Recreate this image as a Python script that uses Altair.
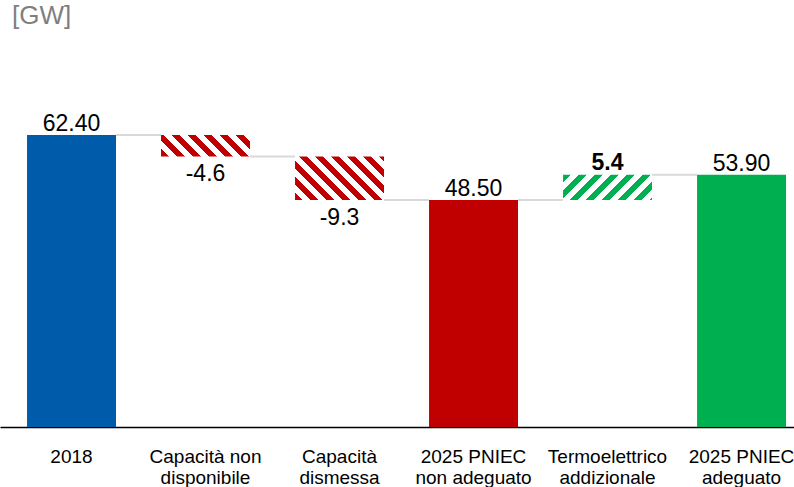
import altair as alt
import pandas as pd

# --- data -------------------------------------------------------------------
categories = [
    "2018",
    "Capacità non\ndisponibile",
    "Capacità\ndismessa",
    "2025 PNIEC\nnon adeguato",
    "Termoelettrico\naddizionale",
    "2025 PNIEC\nadeguato",
]
values = [62.40, -4.6, -9.3, 48.50, 5.4, 53.90]
kinds = ["total", "delta", "delta", "total", "delta", "total"]
colors = ["#005BAA", "#C00000", "#C00000", "#C00000", "#00B050", "#00B050"]

# --- layout constants --------------------------------------------------------
W = 794
TOP = 40
H = 387
Y_MAX = 82.7
PX_PER_GW = H / Y_MAX
PAD_INNER = 0.336
PAD_OUTER = 0.1306
ALIGN = 0.772
STEP = W / (len(categories) - PAD_INNER + 2 * PAD_OUTER)
BAR_W = STEP * (1 - PAD_INNER)
FONT = "Liberation Sans"

# waterfall start / end levels and value labels
rows = []
level = 0.0
for cat, val, kind, col in zip(categories, values, kinds, colors):
    if kind == "total":
        start, end = 0.0, val
        label = f"{val:.2f}"
    else:
        start, end = level, level + val
        label = f"{val:.1f}"
    level = end
    rows.append({"cat": cat, "value": val, "kind": kind, "color": col,
                 "start": start, "end": end, "label": label})
df = pd.DataFrame(rows)

connectors = pd.DataFrame([
    {"cat": categories[i], "next": categories[i + 1], "level": rows[i]["end"]}
    for i in range(len(categories) - 1)
])


def stripes(color, w, h, period=16.0, slope="down"):
    """Linear gradient with hard stops that draws 45-degree hatching
    inside a w x h box (gradient coordinates are bounding-box relative)."""
    span = w + h
    k = span / (w * w + h * h)
    if slope == "down":      # "\" stripes
        x1, y1, x2, y2 = 0, 1, k * w, 1 - k * h
    else:                    # "/" stripes
        x1, y1, x2, y2 = 0, 0, k * w, k * h
    p = period / span
    stops = []
    t = 0.0
    while t < 1:
        a, b, c = t, min(t + p / 2, 1), min(t + p, 1)
        stops += [
            {"offset": a, "color": color}, {"offset": b, "color": color},
            {"offset": b, "color": "white"}, {"offset": c, "color": "white"},
        ]
        t += p
    return alt.LinearGradient(gradient="linear", stops=stops,
                              x1=x1, y1=y1, x2=x2, y2=y2)


# --- encodings ---------------------------------------------------------------
x_enc = alt.X(
    "cat:N",
    sort=categories,
    scale=alt.Scale(paddingInner=PAD_INNER, paddingOuter=PAD_OUTER, align=ALIGN),
    axis=alt.Axis(
        title=None, labelAngle=0, labelAlign="center", ticks=False, grid=False,
        labelExpr="split(datum.label, '\\n')",
        domainColor="#000000", domainWidth=1.5,
        labelFont=FONT, labelFontSize=19, labelColor="#000000",
        labelPadding=20, labelLineHeight=21, labelBaseline="top",
    ),
)
y_scale = alt.Scale(domain=[0, Y_MAX], nice=False, zero=True)

base = alt.Chart(df)

connector_rules = alt.Chart(connectors).mark_rule(
    color="#D9D9D9", strokeWidth=2
).encode(
    x=alt.X("cat:N", sort=categories, bandPosition=1),
    x2=alt.X2("next:N", bandPosition=0),
    y=alt.Y("level:Q", scale=y_scale, axis=None),
)

total_bars = base.transform_filter(alt.datum.kind == "total").mark_bar().encode(
    x=x_enc,
    y=alt.Y("start:Q", scale=y_scale, axis=None),
    y2="end:Q",
    fill=alt.Fill("color:N", scale=None),
)

hatched = []
for r in rows:
    if r["kind"] != "delta":
        continue
    h_px = abs(r["value"]) * PX_PER_GW
    grad = stripes(r["color"], BAR_W, h_px,
                   slope="down" if r["value"] < 0 else "up")
    hatched.append(
        base.transform_filter(alt.datum.cat == r["cat"]).mark_bar(fill=grad).encode(
            x=x_enc,
            y=alt.Y("start:Q", scale=y_scale, axis=None),
            y2="end:Q",
        )
    )

label_common = dict(font=FONT, fontSize=23, color="#000000")

total_labels = base.transform_filter(alt.datum.kind == "total").mark_text(
    baseline="alphabetic", dy=-4, **label_common
).encode(x=x_enc, y=alt.Y("end:Q", scale=y_scale, axis=None), text="label:N")

neg_labels = base.transform_filter(
    (alt.datum.kind == "delta") & (alt.datum.value < 0)
).mark_text(baseline="alphabetic", dy=24.5, **label_common).encode(
    x=x_enc, y=alt.Y("end:Q", scale=y_scale, axis=None), text="label:N")

pos_labels = base.transform_filter(
    (alt.datum.kind == "delta") & (alt.datum.value > 0)
).mark_text(baseline="alphabetic", dy=-5, fontWeight="bold", **label_common).encode(
    x=x_enc, y=alt.Y("end:Q", scale=y_scale, axis=None), text="label:N")

chart = alt.layer(
    connector_rules, total_bars, *hatched, total_labels, neg_labels, pos_labels
).properties(
    width=W,
    height=H,
    padding={"left": 0, "right": 0, "top": TOP, "bottom": 487 - TOP - H},
    autosize=alt.AutoSizeParams(type="none"),
    title=alt.TitleParams(
        "[GW]", anchor="start", fontSize=26, color="#7F7F7F", font=FONT,
        fontWeight="normal", dx=12, dy=26, offset=16, baseline="alphabetic",
    ),
).configure(font=FONT).configure_view(strokeWidth=0, stroke="transparent")

chart.save("out.html", embed_options={"renderer": "svg", "actions": False})
